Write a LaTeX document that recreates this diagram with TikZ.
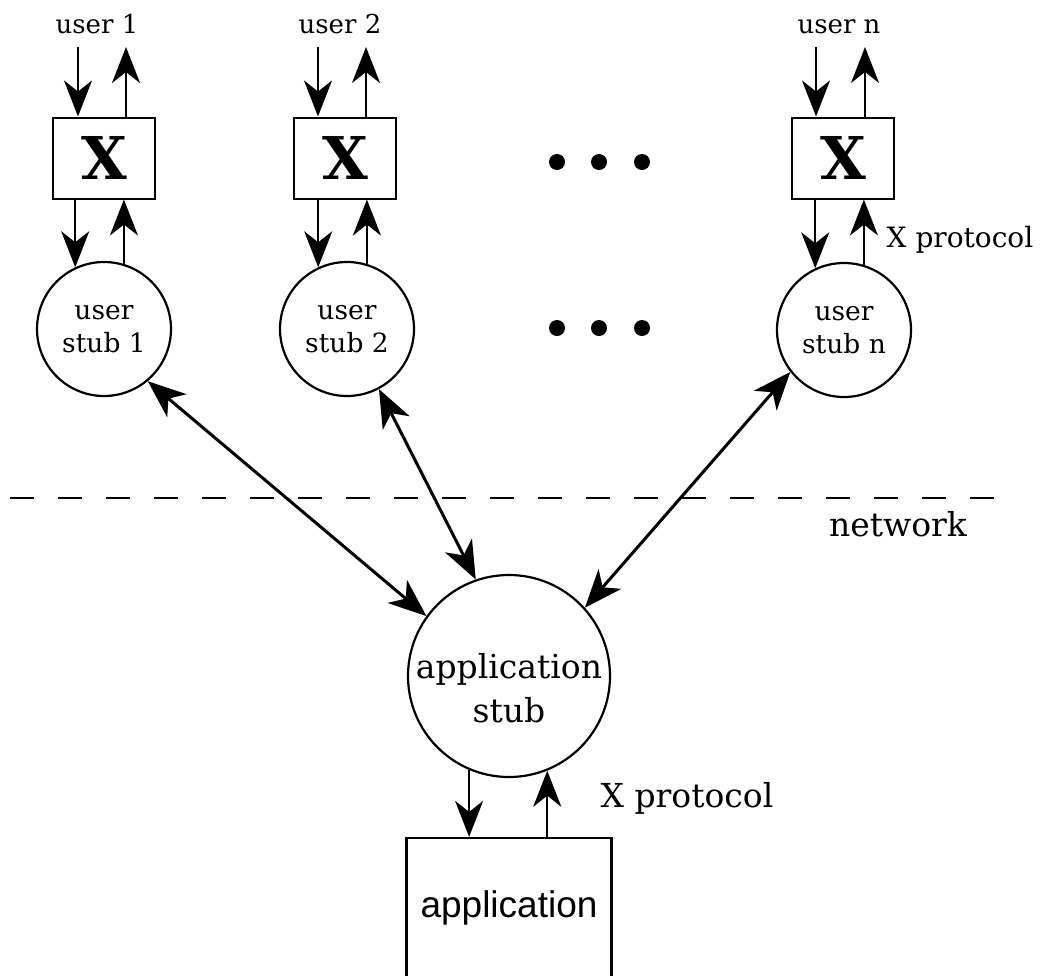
\documentclass[tikz,border=0pt]{standalone}
\usepackage{fontspec}
\setmainfont{DejaVu Serif}
\newfontfamily\appsans{Liberation Sans}
\usetikzlibrary{arrows.meta}
\begin{document}
\begin{tikzpicture}[x=1pt,y=-1pt,
  thinln/.style={line width=2.2pt},
  tip/.style={thinln,-{Stealth[length=36pt,width=28pt,inset=11pt]}},
  dtip/.style={line width=3pt,{Stealth[length=38pt,width=30pt,inset=11pt]}-{Stealth[length=38pt,width=30pt,inset=11pt]}},
  xbox/.style={draw, line width=2pt, minimum width=102pt, minimum height=81pt, inner sep=0pt, font=\fontsize{59}{59}\selectfont\bfseries},
  stubc/.style={draw, circle, line width=2.2pt, minimum size=134pt, inner sep=0pt, align=center, font=\fontsize{26.5}{33}\selectfont},
  lbl/.style={anchor=base, inner sep=0pt, font=\fontsize{26}{30}\selectfont},
  biglbl/.style={anchor=base, inner sep=0pt, font=\fontsize{33}{40}\selectfont},
  dotn/.style={fill, circle, minimum size=16pt, inner sep=0pt},
]
\useasboundingbox (0,0) rectangle (1041,975);
\clip (0,0) rectangle (1041,975);

% X boxes
\node[xbox] (x1) at (104,158) {X};
\node[xbox] (x2) at (345,158) {X};
\node[xbox] (xn) at (843,158) {X};

% user stubs
\node[stubc] (s1) at (104,329) {user\\stub 1};
\node[stubc] (s2) at (347,329) {user\\stub 2};
\node[stubc] (sn) at (844,330) {user\\stub n};

% user labels
\node[lbl] (l1) at (97,33) {user 1};
\node[lbl] (l2) at (340,33) {user 2};
\node[lbl] (ln) at (839,33) {user n};

% free ends of the user arrows
\coordinate (a1i) at (78,47);
\coordinate (a1o) at (126,47);
\coordinate (a2i) at (318,47);
\coordinate (a2o) at (366,47);
\coordinate (ani) at (816,47);
\coordinate (ano) at (865,47);

\draw[tip] (a1i) -- (a1i |- x1.north);
\draw[tip] (a1o |- x1.north) -- (a1o);
\draw[tip] (a2i) -- (a2i |- x2.north);
\draw[tip] (a2o |- x2.north) -- (a2o);
\draw[tip] (ani) -- (ani |- xn.north);
\draw[tip] (ano |- xn.north) -- (ano);

% X box <-> user stub
\draw[tip] (x1.south -| s1.115) -- (s1.115);
\draw[tip] (s1.73) -- (s1.73 |- x1.south);
\draw[tip] (x2.south -| s2.115) -- (s2.115);
\draw[tip] (s2.73) -- (s2.73 |- x2.south);
\draw[tip] (xn.south -| sn.115) -- (sn.115);
\draw[tip] (sn.73) -- (sn.73 |- xn.south);

\node[lbl, font=\fontsize{28}{34}\selectfont] (xp1) at (960,247) {X protocol};

% dots
\node[dotn] (d1) at (557,162) {};
\node[dotn] (d2) at (599,162) {};
\node[dotn] (d3) at (642,162) {};
\node[dotn] (d4) at (557,328) {};
\node[dotn] (d5) at (599,328) {};
\node[dotn] (d6) at (642,328) {};

% network line
\coordinate (nl) at (10,498);
\coordinate (nr) at (995,498);
\draw[line width=2.5pt, dash pattern=on 24pt off 24pt] (nl) -- (nr);
\node[biglbl] (net) at (898,536) {network};

% application stub
\node[draw, circle, line width=2.2pt, minimum size=202pt, inner sep=0pt] (app) at (509,676) {};
\node[align=center, inner sep=0pt, font=\fontsize{33}{44}\selectfont] (appt) at (509,688) {application\\stub};

% double arrows
\draw[dtip] (s1.-50) -- (app.144);
\draw[dtip] (s2.-62) -- (app.109);
\draw[dtip] (sn.-142) -- (app.42);

% application box
\node[draw, line width=2.2pt, minimum width=205pt, minimum height=139pt, inner sep=0pt, font=\appsans\fontsize{37}{40}\selectfont] (abox) at (509,907.5) {application};

\draw[tip] (app.-113) -- (app.-113 |- abox.north);
\draw[tip] (app.-68 |- abox.north) -- (app.-68);

\node[biglbl] (xp2) at (687,807) {X protocol};
\end{tikzpicture}
\end{document}
